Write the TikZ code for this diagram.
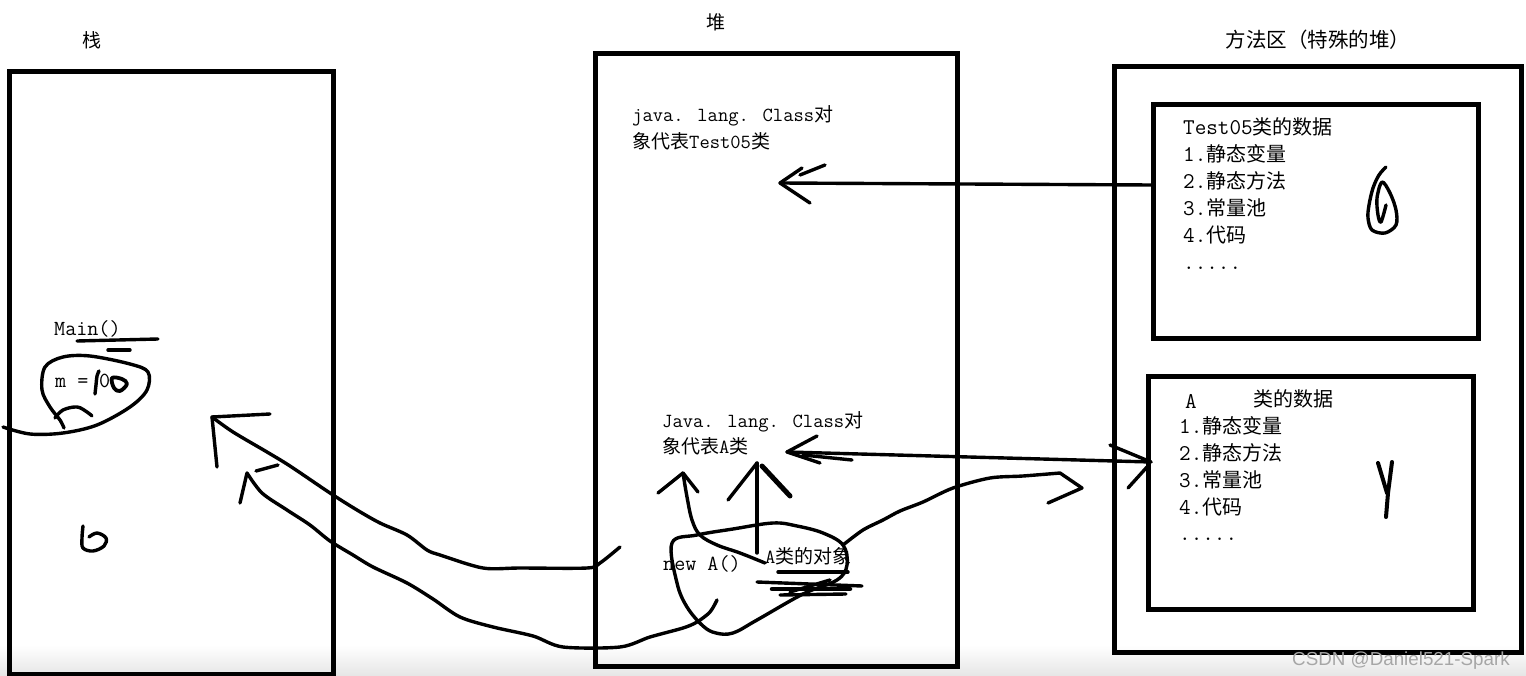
\documentclass[tikz,border=0pt]{standalone}
\usepackage{fontspec}
\newfontfamily\cjk{Noto Sans CJK SC}
\newfontfamily\wmfont{Liberation Sans}
\newcommand\TT{\ttfamily\addfontfeatures{FakeBold=1.2}}
\newcommand\HLat[1]{{\TT\fontsize{20}{22}\selectfont #1}}
\newcommand\HZh[1]{{\cjk\fontsize{19}{20}\selectfont #1}}
\newcommand\BLat[1]{{\TT\fontsize{22.5}{24}\selectfont #1}}
\newcommand\BZh[1]{{\cjk\fontsize{20}{22}\selectfont #1}}
\newcommand\SLat[1]{{\TT\fontsize{21.5}{24}\selectfont #1}}
\begin{document}
\begin{tikzpicture}[x=1pt,y=-1pt,
  hand/.style={line width=3.4pt, line cap=round, line join=round},
  frame/.style={draw, line width=5pt, inner sep=0pt, anchor=north west},
  txt/.style={inner sep=0pt, anchor=base west},
  title/.style={inner sep=0pt, anchor=center, font=\cjk\fontsize{19}{20}\selectfont}]
\useasboundingbox (0,0) rectangle (1526,676);
\shade[top color=white, bottom color=black!10] (0,645) rectangle (1526,676);

% frames
\node[frame, minimum width=324pt, minimum height=603pt] (stack) at (7,69) {};
\node[frame, minimum width=362pt, minimum height=613pt] (heap) at (593,51) {};
\node[frame, minimum width=407pt, minimum height=586pt] (method) at (1112,64) {};
\node[frame, minimum width=325pt, minimum height=234pt] (box1) at (1151,102) {};
\node[frame, minimum width=325pt, minimum height=233pt] (box2) at (1146,374) {};

% titles
\node[title] (tstack) at (92,40) {栈};
\node[title] (theap) at (716,22) {堆};
\node[title, font=\cjk\fontsize{20.5}{22}\selectfont] (tmethod) at (1318,40) {方法区（特殊的堆）};

% heap texts
\node[txt] (ht1) at (632,122) {\HLat{java. lang. Class}\HZh{对}};
\node[txt] (ht2) at (632,149) {\HZh{象代表}\HLat{Test05}\HZh{类}};
\node[txt] (ha1) at (662,427) {\HLat{Java. lang. Class}\HZh{对}};
\node[txt] (ha2) at (662,453) {\HZh{象代表}\HLat{A}\HZh{类}};
\node[txt] (newa) at (663,570) {\SLat{new A()}};
\node[txt] (obj) at (765,563) {\HLat{A}\HZh{类的对象}};

% stack texts
\node[txt] (mainf) at (54,335) {\SLat{Main()}};
\node[txt] (meq) at (55,387) {\SLat{m =}};
\node[txt] (mzero) at (99,387) {\SLat{0}};

% box1 texts
\node[txt] (b1a) at (1183,135) {\BLat{Test05}\BZh{类的数据}};
\node[txt] (b1b) at (1183,162) {\BLat{1.}\BZh{静态变量}};
\node[txt] (b1c) at (1183,189) {\BLat{2.}\BZh{静态方法}};
\node[txt] (b1d) at (1183,216) {\BLat{3.}\BZh{常量池}};
\node[txt] (b1e) at (1183,243) {\BLat{4.}\BZh{代码}};
\node[txt] (b1f) at (1183,270) {\BLat{.....}};

% box2 texts
\node[txt] (b2A) at (1185,408) {\BLat{A}};
\node[txt] (b2a) at (1253,406) {\BZh{类的数据}};
\node[txt] (b2b) at (1179,433) {\BLat{1.}\BZh{静态变量}};
\node[txt] (b2c) at (1179,460) {\BLat{2.}\BZh{静态方法}};
\node[txt] (b2d) at (1179,487) {\BLat{3.}\BZh{常量池}};
\node[txt] (b2e) at (1179,514) {\BLat{4.}\BZh{代码}};
\node[txt] (b2f) at (1179,540) {\BLat{.....}};

% watermark
\node[txt, text=black!35] (wm) at (1292,665) {{\wmfont\fontsize{18.8}{20}\selectfont CSDN @Daniel521-Spark}};

% arrow from box1 to Test05 class object
\coordinate (a1s) at (1151,185);
\coordinate (a1t) at (780,183);
\draw[hand] (a1s) -- (a1t);
\draw[hand] (a1t) -- ++(22,-15);
\draw[hand] (a1t) ++(20,-8) -- ++(25,-10);
\draw[hand] (a1t) -- ++(30,20);

% double arrow A class object <-> box2
\coordinate (g1) at (787,452);
\coordinate (g2) at (1151,462);
\draw[hand] (g1) -- (g2);
\draw[hand] (g1) -- ++(30,-16);
\draw[hand] (g1) -- ++(33,11);
\draw[hand] (g1) ++(16,3) -- ++(49,5);
\draw[hand] (g2) -- ++(-41,-17);
\draw[hand] (g2) ++(-4,5) -- ++(-19,21);

% vertical arrow from object to class object
\coordinate (c0) at (757,553);
\coordinate (ct) at (757,463);
\draw[hand] (c0) -- (ct);
\draw[hand] (ct) -- ++(-29,37);
\draw[hand, line width=5pt] (ct) ++(5,3) -- ++(28,30);

% curved arrow from object to class object
\coordinate (dt) at (683,473);
\draw[hand] plot[smooth, tension=0.6] coordinates {(765,563) (740,553) (717,545) (700,535) (692,520) (687,497) (683,473)};
\draw[hand] (dt) -- ++(-25,20);
\draw[hand] (dt) -- ++(15,19);

% loop around new A()
\draw[hand] plot[smooth cycle, tension=0.6] coordinates {(672,543) (697,535) (733,529) (773,523) (797,526) (823,533) (843,545) (847,565) (837,580) (803,594) (757,620) (733,633) (716,633) (703,626) (687,607) (677,583)};

% curve towards box2
\coordinate (ft) at (1082,488);
\draw[hand] plot[smooth, tension=0.5] coordinates {(843,545) (863,530) (883,520) (900,511) (923,502) (953,488) (990,478) (1023,476) (1060,473)} -- (ft) -- ++(-34,15);

% scribbles under object text
\draw[hand] (778,572) -- (848,572);
\draw[hand] (757,582) -- (862,586);
\draw[hand, line width=4.5pt] (772,589) -- (850,589);
\draw[hand] (780,595) -- (846,594);
\draw[hand] (790,592) -- (830,580);

% lower curve to stack
\coordinate (bt) at (247,473);
\draw[hand] plot[smooth, tension=0.5] coordinates {(717,600) (710,612) (697,622) (683,628) (650,637) (620,647) (563,647) (533,636) (493,627) (460,617) (433,599) (407,583) (373,567) (353,555) (330,541) (310,525) (287,510) (262,493) (247,473)};
\draw[hand] (bt) -- ++(-7,30);
\draw[hand] (bt) ++(9,-2) -- ++(22,-6);

% upper curve to stack
\coordinate (at) at (212,417);
\draw[hand] plot[smooth, tension=0.5] coordinates {(620,547) (600,563) (587,568) (520,568) (483,568) (440,555) (427,550) (407,535) (380,523) (357,510) (330,493) (290,466) (267,452) (233,432) (212,417)};
\draw[hand] (at) -- ++(58,-3);
\draw[hand] (at) -- ++(5,50);

% stack doodles
\draw[hand] (77,341) -- (158,339);
\draw[hand] (108,350) -- (130,350);
\draw[hand] plot[smooth, tension=0.55] coordinates {(3,427) (30,434) (63,433) (97,425) (130,407) (147,390) (148,372) (130,364) (90,356) (63,357) (45,367) (42,390) (50,407) (60,420) (64,428)};
\draw[hand] plot[smooth, tension=0.6] coordinates {(55,418) (63,410) (77,407) (87,412) (92,416)};
\draw[hand] plot[smooth, tension=0.6] coordinates {(99,371) (97,376) (96,385) (95,394)};
\draw[hand, line width=3.8pt] plot[smooth cycle, tension=0.6] coordinates {(112,378) (122,379) (127,384) (120,391) (114,388)};
\draw[hand] plot[smooth, tension=0.6] coordinates {(83,526) (82,538) (83,548) (93,551) (104,546) (106,538) (97,533) (89,537)};

% box doodles
\draw[hand] plot[smooth, tension=0.55] coordinates {(1386,167) (1379,175) (1373,188) (1369,205) (1368,218) (1372,230) (1385,233) (1396,225) (1396,210) (1390,193) (1382,182) (1377,198) (1378,215) (1381,222) (1386,205)};
\draw[hand, line width=4pt] (1378,463) -- (1387,493);
\draw[hand, line width=4pt] (1392,462) -- (1388,493) -- (1386,517);
\end{tikzpicture}
\end{document}
